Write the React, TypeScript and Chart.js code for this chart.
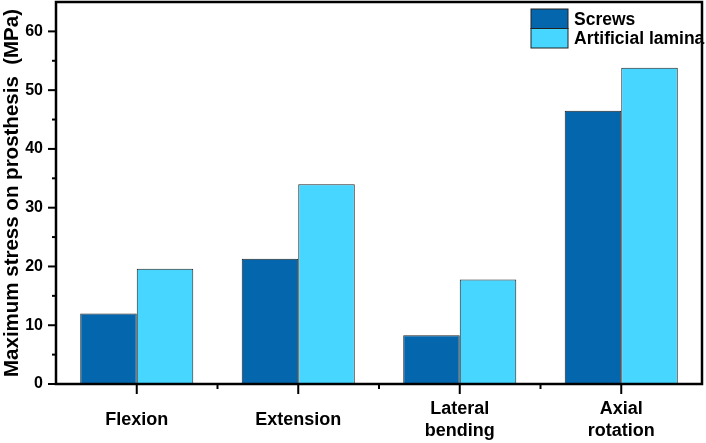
import { useEffect, useRef } from 'react'
import { Chart, registerables } from 'chart.js'

Chart.register(...registerables)

const categories: (string | string[])[] = ['Flexion', 'Extension', ['Lateral', 'bending'], ['Axial', 'rotation']]
const seriesNames = ['Screws', 'Artificial lamina']
const screwsValues = [12.0, 21.3, 8.3, 46.5]
const laminaValues = [19.6, 34.0, 17.8, 53.8]
const yMajorTicks = [0, 10, 20, 30, 40, 50, 60]
const yMinorTicks = [5, 15, 25, 35, 45, 55]

const FONT = "'Liberation Sans', Arial, sans-serif"
const SCREWS_COLOR = '#0467ad'
const LAMINA_COLOR = '#47d6ff'

// frame, tick marks and the legend box in the top right corner
const framePlugin = {
  id: 'frame',
  afterDraw(chart: any) {
    const { ctx, chartArea: a, scales } = chart
    const xs = scales.x
    const ys = scales.y
    const line = (x1: number, y1: number, x2: number, y2: number) => {
      ctx.beginPath()
      ctx.moveTo(x1, y1)
      ctx.lineTo(x2, y2)
      ctx.stroke()
    }
    ctx.save()
    ctx.strokeStyle = '#000'
    ctx.lineWidth = 2
    yMajorTicks.forEach(v => {
      const py = ys.getPixelForValue(v)
      line(a.left - 8, py, a.left, py)
    })
    yMinorTicks.forEach(v => {
      const py = ys.getPixelForValue(v)
      line(a.left - 4, py, a.left, py)
    })
    categories.forEach((_, i) => {
      const px = xs.getPixelForValue(i)
      line(px, a.bottom, px, a.bottom + 10)
      if (i > 0) {
        const mid = (xs.getPixelForValue(i - 1) + px) / 2
        line(mid, a.bottom, mid, a.bottom + 5)
      }
    })
    ctx.lineWidth = 2.5
    ctx.strokeRect(a.left, a.top, a.right - a.left, a.bottom - a.top)

    // legend
    const colors = [SCREWS_COLOR, LAMINA_COLOR]
    const boxLeft = a.right - 171
    const boxW = 37
    const boxH = 19.5
    let top = a.top + 7
    ctx.font = `bold 17.5px ${FONT}`
    ctx.textBaseline = 'middle'
    ctx.textAlign = 'left'
    seriesNames.forEach((name, i) => {
      ctx.fillStyle = colors[i]
      ctx.fillRect(boxLeft, top, boxW, boxH)
      ctx.lineWidth = 1
      ctx.strokeStyle = '#222'
      ctx.strokeRect(boxLeft, top, boxW, boxH)
      ctx.fillStyle = '#000'
      ctx.fillText(name, boxLeft + boxW + 6, top + boxH / 2 + 1)
      top += boxH
    })
    ctx.restore()
  },
}

export default function App() {
  const canvasRef = useRef<HTMLCanvasElement>(null)
  const chartRef = useRef<Chart | null>(null)

  useEffect(() => {
    if (!canvasRef.current) return
    if (chartRef.current) chartRef.current.destroy()

    chartRef.current = new Chart(canvasRef.current, {
      type: 'bar',
      data: {
        labels: categories,
        datasets: [
          {
            label: seriesNames[0],
            data: screwsValues,
            backgroundColor: SCREWS_COLOR,
            borderColor: '#222',
            borderWidth: 1,
          },
          {
            label: seriesNames[1],
            data: laminaValues,
            backgroundColor: LAMINA_COLOR,
            borderColor: '#222',
            borderWidth: 1,
          },
        ],
      },
      options: {
        responsive: true,
        maintainAspectRatio: false,
        animation: false,
        layout: { padding: { top: 2, right: 4, left: 0, bottom: 0 } },
        datasets: { bar: { categoryPercentage: 0.7, barPercentage: 1 } },
        plugins: {
          legend: { display: false },
          tooltip: { enabled: false },
        },
        scales: {
          x: {
            grid: { display: false, drawTicks: false },
            border: { display: false },
            ticks: {
              color: '#000',
              padding: 25,
              crossAlign: 'center',
              maxRotation: 0,
              autoSkip: false,
              font: { family: FONT, size: 18, weight: 'bold', lineHeight: 1.22 },
            },
            afterFit: (scale: any) => {
              scale.height = 59
              scale.paddingLeft = 0
              scale.paddingRight = 0
            },
          },
          y: {
            min: 0,
            max: 65,
            grid: { display: false, drawTicks: false },
            border: { display: false },
            afterBuildTicks: (scale: any) => {
              scale.ticks = yMajorTicks.map(v => ({ value: v }))
            },
            ticks: {
              color: '#000',
              padding: 13,
              font: { family: FONT, size: 16, weight: 'bold' },
            },
            title: {
              display: true,
              text: 'Maximum stress on prosthesis  (MPa)',
              color: '#000',
              padding: { top: 0, bottom: 0 },
              font: { family: FONT, size: 20.5, weight: 'bold' },
            },
            afterFit: (scale: any) => {
              scale.width = 56
              scale.paddingTop = 0
              scale.paddingBottom = 0
            },
          },
        },
      },
      plugins: [framePlugin],
    })

    return () => {
      if (chartRef.current) {
        chartRef.current.destroy()
        chartRef.current = null
      }
    }
  }, [])

  return (
    <div style={{ position: 'absolute', left: 0, top: 0, width: 706, height: 443, background: '#fff' }}>
      <canvas ref={canvasRef}></canvas>
    </div>
  )
}
